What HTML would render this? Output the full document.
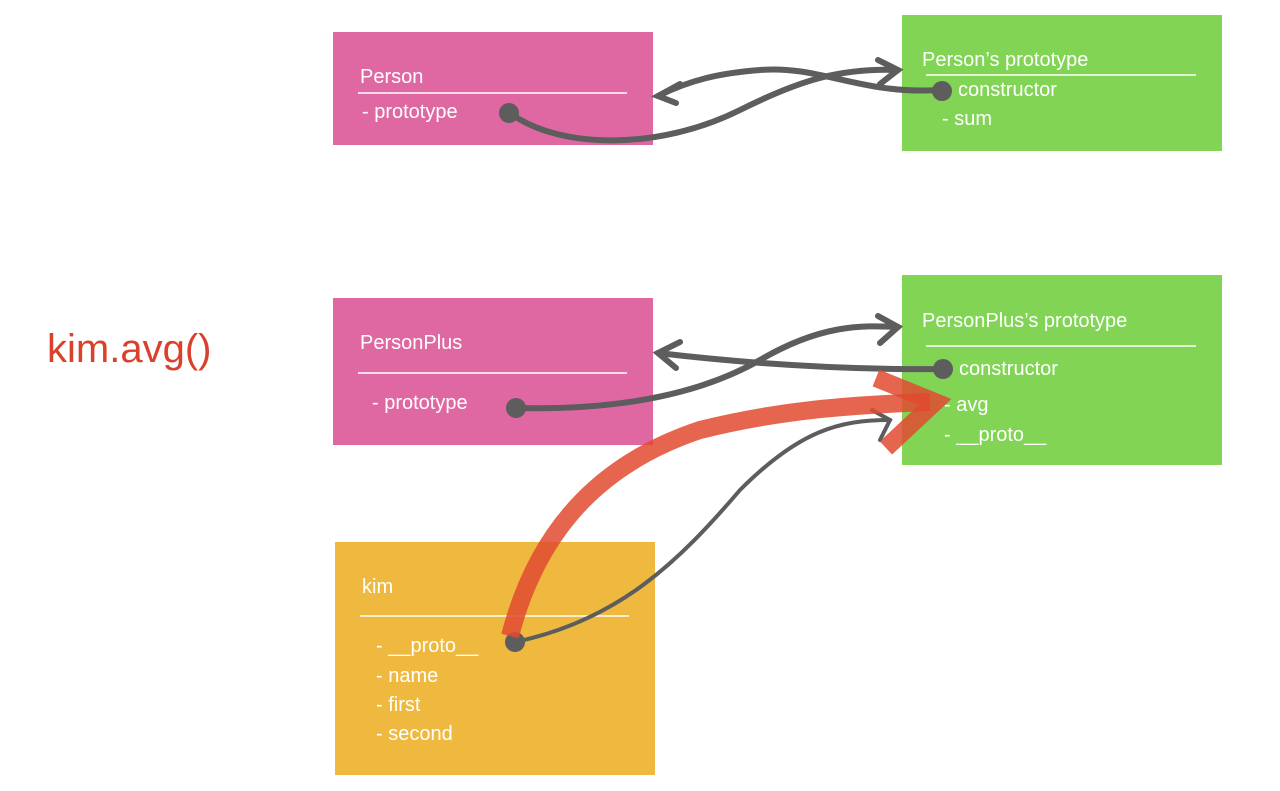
<!DOCTYPE html>
<html><head><meta charset="utf-8"><style>
html,body{margin:0;padding:0;background:#fff;width:1280px;height:791px;overflow:hidden}
svg{display:block}
text{font-family:"Liberation Sans",sans-serif;fill:#fff;font-size:20px}
</style></head><body>
<svg width="1280" height="791" viewBox="0 0 1280 791">
<!-- boxes -->
<rect x="333" y="32" width="320" height="113" fill="#df68a3"/>
<rect x="902" y="15" width="320" height="136" fill="#81d454"/>
<rect x="333" y="298" width="320" height="147" fill="#df68a3"/>
<rect x="902" y="275" width="320" height="190" fill="#81d454"/>
<rect x="335" y="542" width="320" height="233" fill="#efb93f"/>

<!-- divider lines -->
<line x1="358" y1="93" x2="627" y2="93" stroke="#fff" stroke-width="1.5"/>
<line x1="926" y1="75" x2="1196" y2="75" stroke="#fff" stroke-width="1.5"/>
<line x1="358" y1="373" x2="627" y2="373" stroke="#fff" stroke-width="1.5"/>
<line x1="926" y1="346" x2="1196" y2="346" stroke="#fff" stroke-width="1.5"/>
<line x1="360" y1="616" x2="629" y2="616" stroke="#fff" stroke-width="1.5"/>

<!-- text -->
<text x="360" y="83">Person</text>
<text x="362" y="118">- prototype</text>
<text x="922" y="66">Person’s prototype</text>
<text x="958" y="96">constructor</text>
<text x="942" y="125">- sum</text>

<text x="360" y="349">PersonPlus</text>
<text x="372" y="409">- prototype</text>
<text x="922" y="327">PersonPlus’s prototype</text>
<text x="959" y="375">constructor</text>
<text x="944" y="411">- avg</text>
<text x="944" y="441">- __proto__</text>

<text x="362" y="593">kim</text>
<text x="376" y="652">- __proto__</text>
<text x="376" y="682">- name</text>
<text x="376" y="711">- first</text>
<text x="376" y="740">- second</text>

<text x="47" y="362" style="fill:#d9412b;font-size:40px">kim.avg()</text>

<!-- top connectors -->
<g fill="none" stroke="#5d5d5d" stroke-width="6" stroke-linecap="round">
<path d="M510 113 C560 150 660 150 740 110 C800 80 840 68 898 70"/>
<path d="M878 60 L898 70 L880 84"/>
<path d="M940 90 C860 95 820 65 760 70 C720 73 690 80 658 96"/>
<path d="M680 84 L658 96 L676 103"/>

<!-- PersonPlus connectors -->
<path d="M516 408 C600 410 690 400 760 360 C820 325 860 325 898 327"/>
<path d="M878 316 L898 327 L880 343"/>
<path d="M943 369 C850 370 760 365 658 353"/>
<path d="M680 342 L658 353 L676 368"/>

<!-- kim proto connector -->
<path d="M515 642 C620 620 680 560 740 490 C800 430 840 420 890 420" stroke-width="4"/>
<path d="M872 410 L890 420 L880 440" stroke-width="4"/>
</g>

<!-- dots -->
<g fill="#5d5d5d">
<circle cx="509" cy="113" r="10"/>
<circle cx="942" cy="91" r="10"/>
<circle cx="516" cy="408" r="10"/>
<circle cx="943" cy="369" r="10"/>
<circle cx="515" cy="642" r="10"/>
</g>

<!-- red arrow -->
<g fill="none" stroke="#e04a30" stroke-opacity="0.85" stroke-width="18" stroke-linecap="butt">
<path d="M510 636 C540 520 610 460 700 430 C780 410 850 405 930 402"/>
<path d="M876 378 L935 402 L886 448"/>
</g>
</svg>
</body></html>
